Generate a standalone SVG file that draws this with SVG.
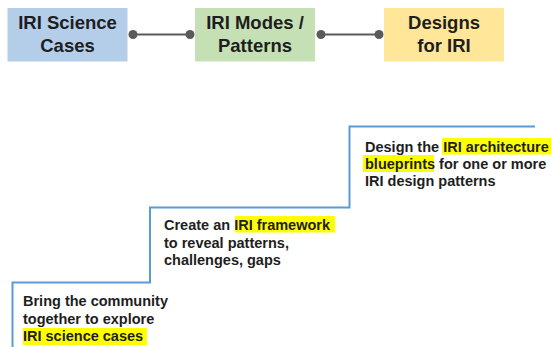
<svg xmlns="http://www.w3.org/2000/svg" width="551" height="347" viewBox="0 0 551 347">
<style>
.t{font-family:"Liberation Sans",Arial,sans-serif;font-weight:bold;fill:#1e1e1e}
.h{font-size:18.5px;text-anchor:middle}
.b{font-size:14.5px}
.hl{fill:#ffff00}
.stair{fill:none;stroke:#5b9bd5;stroke-width:2}
.conn{stroke:#5a5a5a;stroke-width:2}
.dot{fill:#5a5a5a}
</style>
<rect width="551" height="347" fill="#ffffff"/>
<g id="node-science-cases">
<rect x="7.5" y="8" width="120" height="53.5" fill="#b4cde9"/>
<text class="t h" x="67.5" y="29">IRI Science</text>
<text class="t h" x="67.5" y="52">Cases</text>
</g>
<g id="node-modes-patterns">
<rect x="195" y="8" width="120" height="53.5" fill="#c5e0b4"/>
<text class="t h" x="255" y="29">IRI Modes /</text>
<text class="t h" x="255" y="52">Patterns</text>
</g>
<g id="node-designs">
<rect x="384" y="8" width="120" height="53.5" fill="#ffe699"/>
<text class="t h" x="444" y="29">Designs</text>
<text class="t h" x="444" y="52">for IRI</text>
</g>
<g id="connectors">
<line class="conn" x1="133" y1="34.5" x2="190" y2="34.5"/>
<circle class="dot" cx="133" cy="34.5" r="4.5"/>
<circle class="dot" cx="190" cy="34.5" r="4.5"/>
<line class="conn" x1="321" y1="34.5" x2="379" y2="34.5"/>
<circle class="dot" cx="321" cy="34.5" r="4.5"/>
<circle class="dot" cx="379" cy="34.5" r="4.5"/>
</g>
<g id="staircase">
<path class="stair" d="M12.5,347 V282.5 H150 V207.5 H349.5 V126.5 H535"/>
</g>
<g id="step-1">
<rect class="hl" x="23" y="328" width="124" height="17"/>
<text class="t b" x="23" y="306">Bring the community</text>
<text class="t b" x="23" y="323.5">together to explore</text>
<text class="t b" x="23" y="341">IRI science cases</text>
</g>
<g id="step-2">
<rect class="hl" x="235" y="216" width="100" height="16.5"/>
<text class="t b" x="164" y="230">Create an <tspan>IRI framework</tspan></text>
<text class="t b" x="164" y="247.5">to reveal patterns,</text>
<text class="t b" x="164" y="265">challenges, gaps</text>
</g>
<g id="step-3">
<rect class="hl" x="442" y="138" width="109" height="16.5"/>
<rect class="hl" x="363" y="155" width="71" height="17"/>
<text class="t b" x="365" y="152">Design the IRI architecture</text>
<text class="t b" x="365" y="169">blueprints for one or more</text>
<text class="t b" x="365" y="186">IRI design patterns</text>
</g>
</svg>
